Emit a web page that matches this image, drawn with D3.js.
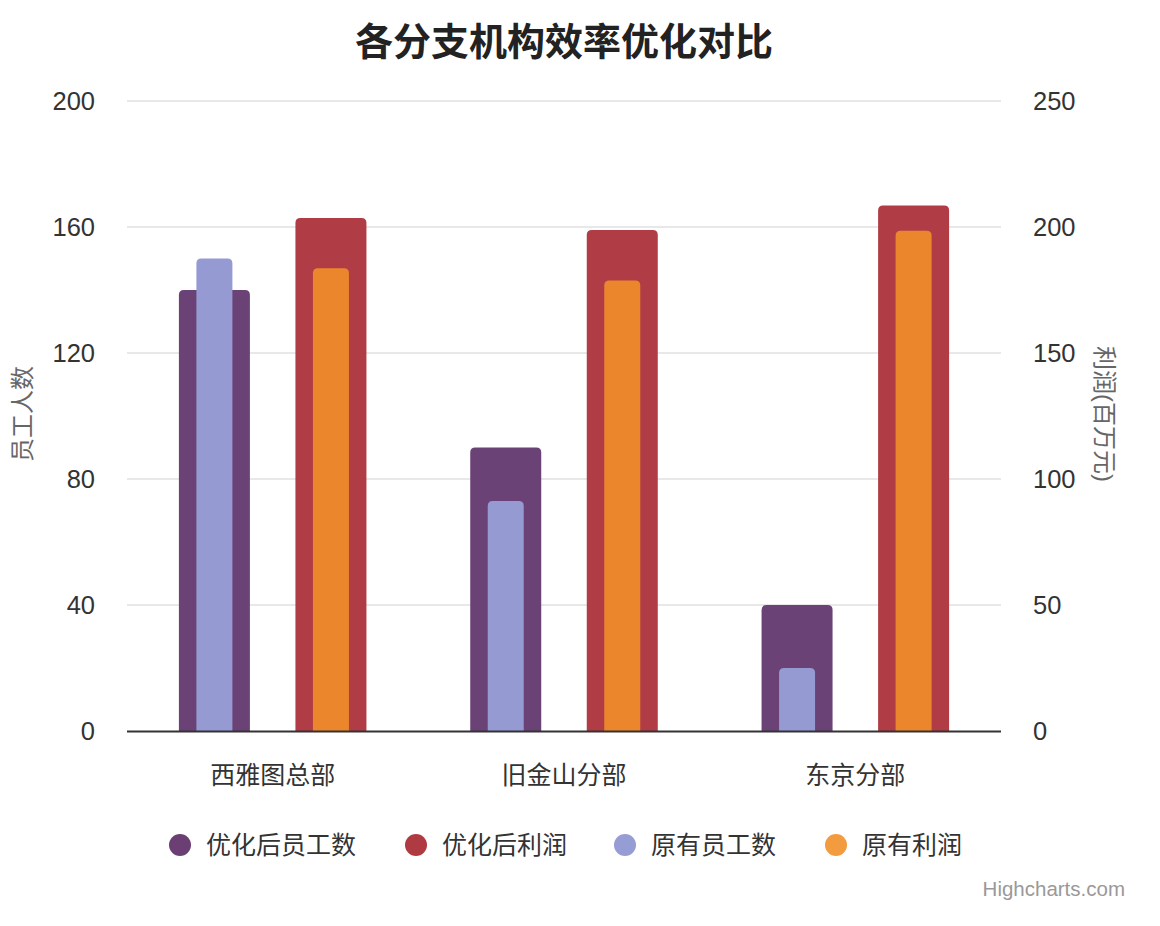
<!DOCTYPE html>
<html><head><meta charset="utf-8">
<script src="https://cdn.jsdelivr.net/npm/d3@7"></script>
<style>
html,body{margin:0;padding:0;background:#fff;}
svg text{font-family:"Liberation Sans","Noto Sans CJK SC",sans-serif;}
</style></head>
<body><svg id="c" width="1160" height="926"></svg>
<script>
const title = "各分支机构效率优化对比";
const categories = ["西雅图总部", "旧金山分部", "东京分部"];
const employeesOptimized = [140, 90, 40];
const profitOptimized = [203.6, 198.8, 208.5];
const employees = [150, 73, 20];
const profit = [183.6, 178.8, 198.5];
const leftTicks = [0, 40, 80, 120, 160, 200];
const rightTicks = [0, 50, 100, 150, 200, 250];
const leftTitle = "员工人数";
const rightTitle = "利润(百万元)";

const series = [
  {name:"优化后员工数", data:employeesOptimized, axis:"left", pad:0.3, place:-0.2, fill:"#6a4276", legend:"#6b3f74"},
  {name:"优化后利润", data:profitOptimized, axis:"right", pad:0.3, place:0.2, fill:"#b03c45", legend:"#b03a42"},
  {name:"原有员工数", data:employees, axis:"left", pad:0.4, place:-0.2, fill:"#959ad2", legend:"#969cd4"},
  {name:"原有利润", data:profit, axis:"right", pad:0.4, place:0.2, fill:"#ec862d", legend:"#f39c3f"}
];

const svg = d3.select("#c");
const L = 127, R = 1001, T = 101, B = 731;
const x = d3.scaleBand().domain(categories).range([L, R]).padding(0);
const yL = d3.scaleLinear().domain([0, 200]).range([B, T]);
const yR = d3.scaleLinear().domain([0, 250]).range([B, T]);

// title
svg.append("text").attr("x", 564).attr("y", 42).attr("text-anchor","middle")
  .attr("dominant-baseline","central").attr("font-size", 38).attr("font-weight","bold")
  .attr("fill","#222").text(title);

// grid
svg.append("g").selectAll("line").data(leftTicks.filter(d=>d>0)).join("line")
  .attr("x1", L).attr("x2", R).attr("y1", d=>yL(d)).attr("y2", d=>yL(d))
  .attr("stroke","#e0e0e0").attr("stroke-width",1.5);

// left axis labels
const gl = svg.append("g").attr("transform",`translate(${L},0)`)
  .call(d3.axisLeft(yL).tickValues(leftTicks).tickSize(0).tickPadding(32));
gl.select(".domain").remove();
gl.selectAll("text").attr("font-size",25.5).attr("fill","#333")
  .style("font-family","'Liberation Sans','Noto Sans CJK SC',sans-serif").attr("dy","0.35em");

const gr = svg.append("g").attr("transform",`translate(${R},0)`)
  .call(d3.axisRight(yR).tickValues(rightTicks).tickSize(0).tickPadding(32));
gr.select(".domain").remove();
gr.selectAll("text").attr("font-size",25.5).attr("fill","#333")
  .style("font-family","'Liberation Sans','Noto Sans CJK SC',sans-serif").attr("dy","0.35em");

// axis titles
svg.append("text").attr("transform",`translate(22,414) rotate(-90)`).attr("text-anchor","middle")
  .attr("dominant-baseline","central").attr("font-size",24).attr("fill","#666").text(leftTitle);
svg.append("text").attr("transform",`translate(1104,414) rotate(90)`).attr("text-anchor","middle")
  .attr("dominant-baseline","central").attr("font-size",24).attr("fill","#666").text(rightTitle);

// bars
const bw = x.bandwidth();
const groupW = bw * (1 - 2*0.2);
function barPath(x0, w, yTop, yBot, r){
  r = Math.min(r, w/2, (yBot-yTop));
  return `M${x0},${yBot}V${yTop+r}Q${x0},${yTop} ${x0+r},${yTop}H${x0+w-r}Q${x0+w},${yTop} ${x0+w},${yTop+r}V${yBot}Z`;
}
series.forEach(s => {
  const ys = s.axis === "left" ? yL : yR;
  const w = Math.round(groupW * (1 - 2*s.pad)) + 1;
  svg.append("g").selectAll("path").data(s.data).join("path")
    .attr("d", (d,i) => {
      const cx = x(categories[i]) + bw/2 + s.place*bw;
      return barPath(cx - w/2, w, ys(d), B, 5);
    })
    .attr("fill", s.fill);
});

// x axis line
svg.append("line").attr("x1",L).attr("x2",R).attr("y1",B+0.5).attr("y2",B+0.5)
  .attr("stroke","#333").attr("stroke-width",2);

// category labels
svg.append("g").selectAll("text").data(categories).join("text")
  .attr("x", d => x(d) + bw/2).attr("y", 775).attr("text-anchor","middle")
  .attr("dominant-baseline","central").attr("font-size",25).attr("fill","#333").text(d=>d);

// legend
const legendX = [180, 416, 625, 836];
const lg = svg.append("g").selectAll("g").data(series).join("g")
  .attr("transform",(d,i)=>`translate(${legendX[i]},845)`);
lg.append("circle").attr("r",11).attr("fill",d=>d.legend);
lg.append("text").attr("x",26).attr("dominant-baseline","central")
  .attr("font-size",25).attr("fill","#333").text(d=>d.name);

// credits
svg.append("text").attr("x",1125).attr("y",888).attr("text-anchor","end")
  .attr("dominant-baseline","central").attr("font-size",20.5).attr("fill","#999").text("Highcharts.com");
</script></body></html>
